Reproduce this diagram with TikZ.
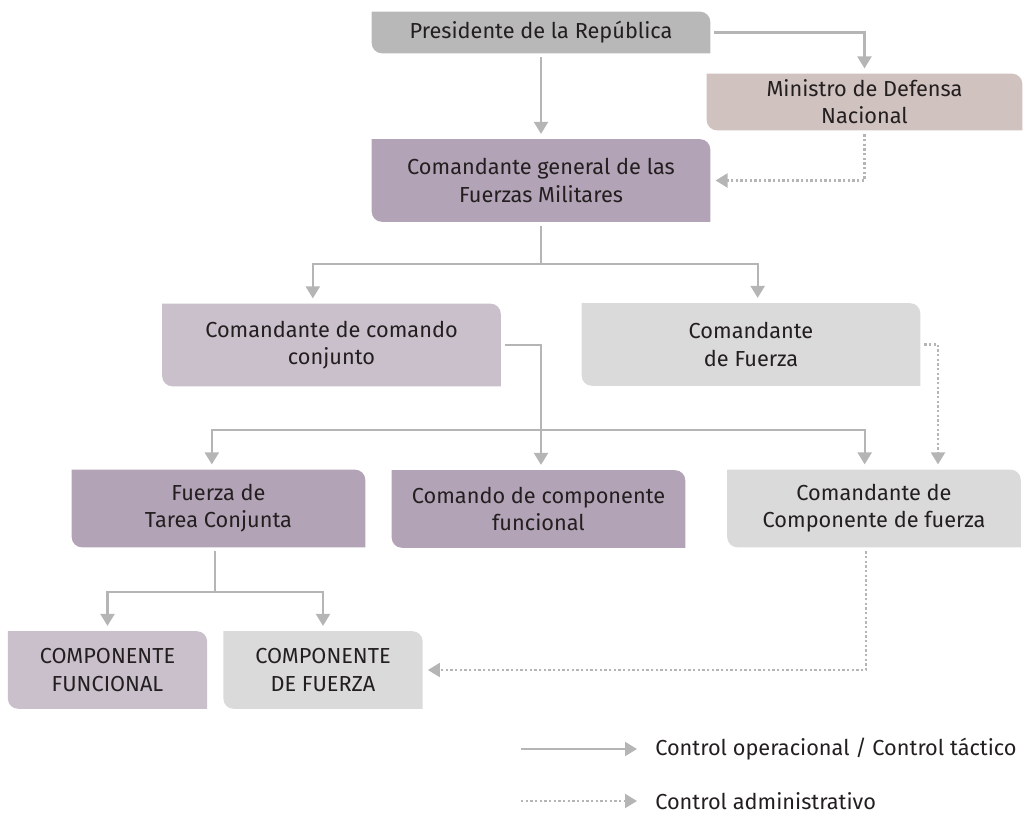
\documentclass[tikz,border=0pt]{standalone}
\usepackage{fontspec}
\setmainfont{Fira Sans}
\usetikzlibrary{arrows.meta,backgrounds}

\definecolor{presgray}{HTML}{B8B8B8}
\definecolor{minrose}{HTML}{D0C2BE}
\definecolor{darkmauve}{HTML}{B3A3B6}
\definecolor{lightmauve}{HTML}{C9C0CB}
\definecolor{lightgray}{HTML}{DADADA}
\definecolor{linegray}{HTML}{B5B5B5}
\definecolor{textdark}{HTML}{231F20}

\begin{document}
\begin{tikzpicture}[x=0.75pt,y=-0.75pt,font=\fontsize{16.3}{20.3}\selectfont,text=textdark,
    box/.style={align=center,inner sep=0pt,minimum height=61.5pt},
    wide/.style={box,minimum width=253.5pt},
    mid/.style={box,minimum width=219.75pt,minimum height=57.75pt},
    small/.style={box,minimum width=149pt,minimum height=57.75pt},
    op/.style={draw=linegray,line width=1.7pt,shorten <=3pt,shorten >=4pt,-{Triangle[length=9pt,width=10.5pt]}},
    adm/.style={op,line width=1.7pt,dash pattern=on 1.7pt off 1.8pt}]
    \useasboundingbox (0,0) rectangle (1026,821);

    \node (pres) [wide,minimum height=30.75pt] at (541,32.5) {Presidente de la República};
    \node (min) [box,minimum width=236.25pt,minimum height=42pt] at (864.5,102) {Ministro de Defensa\\Nacional};
    \node (cg) [wide] at (541,180.5) {Comandante general de las\\Fuerzas Militares};
    \node (ccc) [wide] at (331.5,345) {Comandante de comando\\conjunto};
    \node (ccf) [wide] at (751,344.5) {Comandante\\de Fuerza};
    \node (ftc) [mid] at (218.5,508.5) {Fuerza de\\Tarea Conjunta};
    \node (cfn) [mid] at (538.5,509) {Comando de componente\\funcional};
    \node (ccomp) [mid] at (874,508.5) {Comandante de\\Componente de fuerza};
    \node (cfun) [small] at (107.5,670) {COMPONENTE\\FUNCIONAL};
    \node (cfue) [small] at (323,670) {COMPONENTE\\DE FUERZA};

    % box fills, leaf corners
    \begin{scope}[on background layer]
        \foreach \n/\c in {pres/presgray,min/minrose,cg/darkmauve,ccc/lightmauve,ccf/lightgray,
                ftc/darkmauve,cfn/darkmauve,ccomp/lightgray,cfun/lightmauve,cfue/lightgray}
            \fill[\c] (\n.north west) -- ([xshift=-7.5pt]\n.north east)
                arc[start angle=90,end angle=0,radius=7.5pt] -- (\n.south east)
                -- ([xshift=7.5pt]\n.south west)
                arc[start angle=270,end angle=180,radius=7.5pt] -- cycle;
    \end{scope}

    \coordinate (j1) at (541,264);
    \coordinate (j2) at (541,430);
    \coordinate (j3) at (215,592);

    \draw[op] (pres) -| (min);
    \draw[op] (pres) -- (cg);
    \draw[adm] (min) |- (cg);
    \draw[op] (cg) -- (j1) -| ([xshift=-14pt]ccc.north);
    \draw[op] (cg) -- (j1) -| ([xshift=5pt]ccf.north);
    \draw[op] (ccc) -| (j2) -| ([xshift=-5pt]ftc.north);
    \draw[op] (ccc) -| (j2) -- (j2 |- cfn.north);
    \draw[op] (ccc) -| (j2) -| ([xshift=-7pt]ccomp.north);
    \draw[adm] (ccf) -| ([xshift=48pt]ccomp.north);
    \draw[op] (j3 |- ftc.south) -- (j3) -| (cfun);
    \draw[op] (j3 |- ftc.south) -- (j3) -| (cfue);
    \draw[adm] ([xshift=-6pt]ccomp.south) |- (cfue);

    % legend
    \node (lop) [anchor=west,inner sep=0pt] at (655,749) {Control operacional / Control táctico};
    \node (lad) [anchor=west,inner sep=0pt] at (655,801) {Control administrativo};
    \coordinate (lopstart) at (517,749);
    \coordinate (ladstart) at (517,801);
    \draw[op,shorten >=13.5pt] (lopstart) -- (lop);
    \draw[adm,shorten >=13.5pt] (ladstart) -- (lad);
\end{tikzpicture}
\end{document}
